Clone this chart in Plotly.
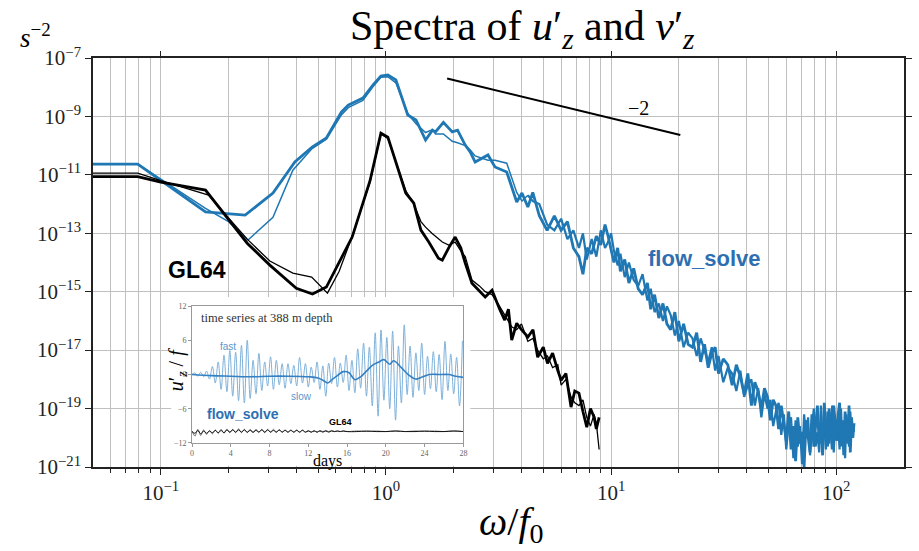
import math
import plotly.graph_objects as go

# ---------------- data ----------------
# flow_solve spectra (log10 of spectral level), low-frequency parts
omega_blue_thick_lf = [0.05, 0.079, 0.158, 0.237, 0.315, 0.394, 0.47, 0.544, 0.634, 0.68,
                       0.79, 0.877, 0.95, 1.02, 1.107, 1.25, 1.36, 1.50, 1.61, 1.66,
                       1.80, 1.97, 2.08, 2.25, 2.37, 2.49, 2.84, 3.05, 3.44, 3.81, 4.02, 4.27]
log_blue_thick_lf = [-10.63, -10.63, -12.27, -12.38, -11.62, -10.56, -10.05, -9.74, -8.85, -8.61,
                     -8.37, -7.92, -7.62, -7.58, -7.75, -8.95, -9.12, -9.81, -9.47, -9.53,
                     -9.20, -9.53, -9.47, -9.98, -10.22, -10.56, -10.32, -10.73, -10.90, -11.93, -11.62, -12.10]

omega_blue_thin_lf = [0.05, 0.079, 0.158, 0.2, 0.244, 0.315, 0.386, 0.47, 0.544, 0.634, 0.68,
                      0.79, 0.877, 0.95, 1.02, 1.107, 1.25, 1.36, 1.50, 1.61, 1.66,
                      1.80, 1.97, 2.08, 2.25, 2.37, 2.49, 2.84, 3.05, 3.44, 3.81, 4.02, 4.27]
log_blue_thin_lf = [-10.63, -10.63, -12.15, -12.6, -13.23, -12.45, -10.84, -10.1, -9.78, -8.95, -8.7,
                    -8.45, -7.98, -7.66, -7.64, -7.85, -8.9, -9.25, -9.55, -9.45, -9.6,
                    -9.6, -9.85, -9.9, -10.0, -10.15, -10.35, -10.5, -10.5, -10.6, -11.6, -11.9, -11.7]

# flow_solve spectra, high-frequency (noisy) parts on a shared frequency grid
omega_hf = [4.49, 4.8, 5.2, 5.6, 6.0, 6.4, 6.8, 7.2, 7.5, 7.8, 8.2, 8.6, 9.0, 9.4, 9.7, 10.0,
            10.3, 10.7, 11.0, 11.5, 12.0, 12.6, 13.2, 13.8, 14.5, 15.0, 15.6, 16.3, 17.0, 17.7,
            18.4, 19.2, 20.0, 21.0, 22.0, 23.0, 24.0, 25.0, 26.0, 27.0, 28.0, 29.0, 30.0,
            31.5, 33.0, 34.5, 36.0, 37.5, 39.0, 40.5, 42.0, 43.5, 45.0, 46.5, 48.0, 49.5, 51.0,
            52.5, 54.0, 55.5, 57.0, 58.5, 60.0, 61.5, 63.0, 64.5, 66.0, 67.5, 69.0, 70.5, 72.0,
            73.5, 75.0, 76.5, 78.0, 79.5, 81.0, 82.5, 84.0, 85.5, 87.0, 88.5, 90.0, 91.5, 93.0,
            94.5, 96.0, 97.5, 99.0, 100.5, 102.0, 103.5, 105.0, 106.5, 108.0, 109.5, 111.0,
            112.5, 114.0, 115.5, 117.0, 118.5, 120.0]
log_blue_thick_hf = [-11.6, -12.4, -12.9, -12.4, -12.9, -12.6, -13.5, -13.8, -14.4, -13.5,
                     -13.7, -13.1, -13.4, -12.7, -13.1, -13.6, -14.0, -13.5, -14.3, -13.9,
                     -14.7, -14.2, -14.9, -15.1, -14.7, -15.6, -15.1, -15.9, -15.4, -16.1,
                     -16.3, -15.7, -16.7, -16.1, -16.8, -16.9, -16.4, -17.4, -16.8, -17.6,
                     -17.1, -16.9, -17.8,
                     -17.3, -17.5, -18.2, -17.5, -17.9, -18.5, -17.8, -18.9, -18.1, -18.4,
                     -19.0, -18.3, -18.6, -19.4, -18.7, -18.9, -19.7, -18.9, -19.5, -20.1,
                     -19.1, -20.4, -19.6, -20.8, -19.3, -20.2, -19.8, -21.0, -19.4, -19.9,
                     -20.5, -19.2, -20.3, -19.6, -18.9, -20.2, -19.5, -20.6, -18.8, -19.7,
                     -20.3, -19.0, -19.6, -20.4, -18.9, -19.5, -20.1, -19.2, -18.8, -20.3,
                     -19.4, -20.6, -19.1, -19.8, -20.2, -18.9, -20.5, -19.3, -20.0, -19.5]
log_blue_thin_hf = [-11.9, -12.0, -12.7, -12.9, -12.5, -13.2, -12.9, -13.5, -13.0, -13.9,
                    -13.2, -13.8, -12.9, -13.5, -13.3, -13.0, -13.6, -14.1, -13.7, -14.5,
                    -14.0, -14.6, -14.8, -14.4, -15.3, -14.9, -15.7, -15.4, -16.0, -15.5,
                    -15.8, -16.5, -16.0, -16.9, -16.4, -16.6, -17.2, -16.6, -17.0, -17.4,
                    -16.9, -17.7, -17.2,
                    -18.1, -17.6, -17.8, -18.4, -17.7, -18.6, -18.2, -18.0, -18.9, -18.3,
                    -19.3, -18.5, -19.0, -18.7, -19.6, -19.1, -18.8, -19.9, -19.2, -20.4,
                    -19.5, -19.3, -20.7, -19.4, -20.3, -19.6, -20.9, -19.2, -20.0, -19.3,
                    -20.6, -19.7, -19.0, -20.3, -19.8, -20.5, -18.9, -20.0, -19.6, -20.4,
                    -19.1, -20.2, -19.7, -18.9, -20.5, -19.4, -20.1, -19.6, -20.4, -19.0,
                    -20.2, -19.5, -20.7, -19.2, -19.9, -20.3, -19.1, -20.0, -19.6, -19.8]

# GL64 spectra
omega_black_thick = [0.05, 0.079, 0.1, 0.158, 0.242, 0.305, 0.40, 0.472, 0.544, 0.708,
                     0.85, 0.95, 1.02, 1.225, 1.33, 1.43, 1.55, 1.71, 1.78, 1.9,
                     2.03, 2.15, 2.25, 2.41, 2.76, 2.96, 3.2, 3.37, 3.5, 3.62,
                     3.81, 4.0, 4.27, 4.5, 4.72, 5.0, 5.22, 5.5, 5.8, 6.0,
                     6.3, 6.64, 6.9, 7.2, 7.5, 7.8, 8.1, 8.4, 8.6, 8.85]
log_black_thick = [-11.06, -11.06, -11.25, -11.52, -13.34, -14.09, -14.88, -15.08, -14.84, -13.13,
                   -11.2, -9.57, -9.71, -11.62, -11.97, -12.89, -13.3, -13.85, -13.92, -13.5,
                   -13.13, -13.5, -14.02, -14.71, -15.18, -14.95, -15.6, -15.97, -15.6, -16.66,
                   -16.08, -16.3, -16.55, -16.3, -17.24, -16.9, -17.45, -17.1, -17.7, -18.03,
                   -17.8, -18.95, -18.4, -18.47, -19.1, -19.64, -19.0, -19.29, -19.7, -19.3]
omega_black_thin = [0.05, 0.079, 0.1, 0.163, 0.242, 0.305, 0.386, 0.468, 0.55, 0.62,
                    0.708, 0.85, 0.95, 1.02, 1.225, 1.33, 1.43, 1.5, 1.6, 1.71,
                    1.78, 1.9, 2.03, 2.15, 2.25, 2.41, 2.6, 2.76, 2.96, 3.2,
                    3.37, 3.62, 3.81, 4.0, 4.27, 4.5, 4.72, 5.0, 5.22, 5.5,
                    5.8, 6.0, 6.3, 6.64, 6.9, 7.2, 7.5, 7.8, 8.1, 8.4, 8.6, 8.85]
log_black_thin = [-10.94, -10.94, -11.2, -11.69, -13.2, -13.95, -14.36, -14.50, -15.05, -14.3,
                  -13.1, -11.25, -9.6, -9.75, -11.55, -12.0, -12.6, -12.79, -13.0, -13.2,
                  -13.3, -13.4, -13.3, -13.6, -13.8, -14.6, -14.8, -15.0, -15.1, -15.5,
                  -15.8, -16.2, -16.3, -16.1, -16.7, -16.6, -17.0, -17.3, -17.2, -17.6,
                  -17.5, -18.2, -18.0, -18.6, -18.8, -18.9, -18.7, -19.3, -19.6, -19.2, -19.5, -20.4]

# -2 reference slope
ref_omega = [1.87, 20.3]
ref_level = [2.0e-8, 2.3e-10]
ref_label_omega = 13.3
ref_label_level = 1.95e-9

# axis ticks
x_tick_vals = [0.1, 1, 10, 100]
x_tick_text = ["10<sup>−1</sup>", "10<sup>0</sup>", "10<sup>1</sup>", "10<sup>2</sup>"]
y_exponents = [-7, -9, -11, -13, -15, -17, -19, -21]

# inset time series (388 m depth)
fast_days = [0.0, 0.3, 0.6, 0.9, 1.2, 1.5, 1.8, 2.1, 2.4, 2.7, 3.0,
             3.3, 3.6, 3.9, 4.2, 4.5, 4.8, 5.1, 5.4, 5.7, 6.0,
             6.3, 6.6, 6.9, 7.2, 7.5, 7.8, 8.1, 8.4, 8.7, 9.0,
             9.3, 9.6, 9.9, 10.2, 10.5, 10.8, 11.1, 11.4, 11.7, 12.0,
             12.3, 12.6, 12.9, 13.2, 13.5, 13.8, 14.1, 14.4, 14.7, 15.0,
             15.3, 15.6, 15.9, 16.2, 16.5, 16.8, 17.1, 17.4, 17.7, 18.0,
             18.3, 18.6, 18.9, 19.2, 19.5, 19.8, 20.1, 20.4, 20.7, 21.0,
             21.3, 21.6, 21.9, 22.2, 22.5, 22.8, 23.1, 23.4, 23.7, 24.0,
             24.3, 24.6, 24.9, 25.2, 25.5, 25.8, 26.1, 26.4, 26.7, 27.0,
             27.3, 27.6, 27.9]
fast_vals = [0.0,
             0.3, -0.3, 0.4, -0.4, 0.6, -0.8, 1.4, -1.5, 2.2, -2.6,
             3.4, -3.0, 4.2, -3.8, 3.9, -4.6, 5.1, -5.0, 6.0, -4.2,
             2.5, -3.4, 3.7, -2.8, 2.2, -2.0, 3.1, -2.6, 2.5, -1.8,
             1.9, -2.4, 1.9, -1.6, 1.6, -2.0, 3.0, -1.5, 1.9, -2.2,
             1.3, -1.4, 2.2, -2.6, 1.5, -3.8, 2.0, -1.6, 3.0, -2.2,
             2.0, -1.4, 3.4, -2.8, 2.5, -3.2, 4.5, -2.4, 5.5, -3.8,
             4.8, -5.5, 7.3, -7.3, 7.8, -4.5, 6.5, -6.0, 7.6, -8.0,
             5.0, -5.0, 8.7, -3.5, 5.0, -4.0, 3.8, -2.8, 5.5, -3.5,
             3.2, -2.5, 4.0, -3.0, 3.5, -4.4, 5.8, -2.8, 3.6, -3.4,
             3.0, -5.5, 5.9]
slow_days = [0, 2, 4, 6, 8, 10, 12, 13, 13.5, 14, 14.5, 15, 15.6, 16.2, 16.8, 17.4,
             18, 18.6, 19.3, 19.8, 20.4, 20.8, 21.6, 22.3, 23.1, 23.8, 24.5, 25.5, 26.5, 27.2, 28]
slow_vals = [0.0, -0.2, -0.3, -0.4, -0.3, -0.3, -0.4, -0.6, -1.0, -1.5, -0.8, -0.2, 0.5, 0.3, -0.9, -0.4,
             0.6, 1.6, 2.2, 2.6, 1.8, 2.4, 1.2, 0.0, -0.8, -0.4, 0.0, 0.0, 0.0, -0.3, -0.5]
gl_days = [0.0, 0.3, 0.6, 0.9, 1.2, 1.5, 1.8, 2.1, 2.4, 2.7, 3.0, 3.3, 3.6, 3.9, 4.2, 4.5,
           4.8, 5.1, 5.4, 5.7, 6.0, 6.3, 6.6, 6.9, 7.2, 7.5, 7.8, 8.1, 8.4, 8.7, 9.0, 9.3,
           9.6, 9.9, 10.2, 10.5, 10.8, 11.1, 11.4, 11.7, 12.0, 12.3, 12.6, 12.9, 13.2, 13.5,
           13.8, 14.1, 14.4, 14.7, 15.0, 15.3, 15.6, 16.0, 17.0, 18.0, 19.0, 20.0, 21.0, 22.0,
           23.0, 24.0, 25.0, 26.0, 27.0, 28.0]
gl_a = [-10.0, -10.3, -9.8, -10.4, -9.9, -10.3, -9.9, -10.2, -9.8, -10.2, -9.8, -10.2, -9.7, -10.1, -9.7, -10.1,
        -9.7, -10.1, -9.7, -10.1, -9.8, -10.1, -9.8, -10.1, -9.7, -10.1, -9.7, -10.1, -9.8, -10.1, -9.7, -10.1,
        -9.8, -10.1, -9.8, -10.1, -9.8, -10.1, -9.8, -10.1, -9.9, -10.1, -9.9, -10.1, -9.9, -10.1,
        -9.9, -10.1, -9.9, -10.0, -9.9, -10.0, -9.9, -10.0, -10.0, -9.9, -10.0, -10.0, -9.9, -10.0,
        -10.0, -9.9, -10.0, -10.0, -9.9, -10.0]
gl_b = [-9.9, -10.8, -9.6, -10.7, -9.7, -10.5, -9.8, -10.4, -9.7, -10.3, -9.6, -10.3, -9.6, -10.2, -9.6, -10.2,
        -9.5, -10.2, -9.6, -10.2, -9.6, -10.2, -9.6, -10.1, -9.6, -10.2, -9.6, -10.1, -9.6, -10.1, -9.7, -10.1,
        -9.7, -10.1, -9.7, -10.1, -9.7, -10.1, -9.7, -10.1, -9.8, -10.1, -9.8, -10.1, -9.8, -10.0,
        -9.8, -10.0, -9.8, -10.0, -9.9, -10.0, -9.9, -10.0, -9.9, -10.0, -9.9, -10.0, -9.9, -10.0,
        -9.9, -10.0, -9.9, -10.0, -9.9, -10.0]
inset_x_ticks = [0, 4, 8, 12, 16, 20, 24, 28]
inset_y_ticks = [-12, -6, 0, 6, 12]

# ---------------- styling ----------------
SERIF = "Liberation Serif"
SANS = "Liberation Sans"
BLUE = "#1f77b4"
LABEL_BLUE = "#2e6fb2"
GRID = "rgb(192,192,192)"


def pw(vals):
    return [10.0 ** v for v in vals]


fig = go.Figure()

common = dict(mode="lines", showlegend=False, hoverinfo="skip")
# thin flow_solve curve: fine line at low frequency, heavier in the noisy high-frequency band
fig.add_trace(go.Scatter(x=omega_blue_thin_lf, y=pw(log_blue_thin_lf),
                         line=dict(color=BLUE, width=1.5), **common))
fig.add_trace(go.Scatter(x=omega_blue_thin_lf[-1:] + omega_hf, y=pw(log_blue_thin_lf[-1:] + log_blue_thin_hf),
                         line=dict(color=BLUE, width=2.2), **common))
fig.add_trace(go.Scatter(x=omega_blue_thick_lf + omega_hf, y=pw(log_blue_thick_lf + log_blue_thick_hf),
                         line=dict(color=BLUE, width=2.8), **common))
fig.add_trace(go.Scatter(x=omega_black_thin, y=pw(log_black_thin),
                         line=dict(color="black", width=1.3), **common))
fig.add_trace(go.Scatter(x=omega_black_thick, y=pw(log_black_thick),
                         line=dict(color="black", width=2.8), **common))
fig.add_trace(go.Scatter(x=ref_omega, y=ref_level, line=dict(color="black", width=2), **common))

# top-axis helper (major ticks only on top)
fig.add_trace(go.Scatter(x=[1], y=[1e-14], xaxis="x4", yaxis="y", mode="markers",
                         marker=dict(opacity=0), showlegend=False, hoverinfo="skip"))
# white cover panel behind inset
fig.add_trace(go.Scatter(x=[0.5], y=[0.5], xaxis="x2", yaxis="y2", mode="markers",
                         marker=dict(opacity=0), showlegend=False, hoverinfo="skip"))
# inset traces
fig.add_trace(go.Scatter(x=gl_days, y=gl_b, xaxis="x3", yaxis="y3",
                         line=dict(color="#777777", width=1, shape="spline"), **common))
fig.add_trace(go.Scatter(x=gl_days, y=gl_a, xaxis="x3", yaxis="y3",
                         line=dict(color="#111111", width=1, shape="spline"), **common))
fig.add_trace(go.Scatter(x=fast_days, y=fast_vals, xaxis="x3", yaxis="y3",
                         line=dict(color="rgb(125,176,218)", width=1.0, shape="spline", smoothing=1.0), **common))
fig.add_trace(go.Scatter(x=slow_days, y=slow_vals, xaxis="x3", yaxis="y3",
                         line=dict(color="rgb(52,128,194)", width=1.6, shape="spline", smoothing=1.0), **common))

x_range = [math.log10(0.05), math.log10(200)]
minor_x = [m * 10.0 ** e for e in range(-2, 3) for m in range(2, 10)
           if 0.05 < m * 10.0 ** e < 200]

fig.update_layout(
    width=919, height=551,
    margin=dict(l=93, r=7, t=58, b=84),
    paper_bgcolor="white", plot_bgcolor="white",
    showlegend=False,
    font=dict(family=SERIF, color="black"),
    xaxis=dict(type="log", range=x_range, domain=[0, 1], anchor="y",
               tickvals=x_tick_vals, ticktext=x_tick_text,
               ticks="outside", ticklen=6, tickwidth=1.2, tickcolor="#222",
               showline=True, linecolor="#222", linewidth=1.6, mirror=True,
               showgrid=True, gridcolor=GRID, gridwidth=1.3, zeroline=False,
               tickfont=dict(family=SERIF, size=21, color="#222"),
               minor=dict(tickvals=minor_x, ticks="outside", ticklen=4, tickwidth=1, tickcolor="#222",
                          showgrid=True, gridcolor=GRID, gridwidth=1.3)),
    xaxis4=dict(type="log", range=x_range, overlaying="x", side="top", anchor="y",
                tickvals=x_tick_vals, ticks="outside", ticklen=6, tickwidth=1.2, tickcolor="#222",
                showticklabels=False, showgrid=False, showline=False, zeroline=False),
    yaxis=dict(type="log", range=[-21, -7], domain=[0, 1], anchor="x",
               tickvals=[10.0 ** e for e in y_exponents],
               ticktext=["10<sup>−%d</sup>" % (-e) for e in y_exponents],
               ticks="outside", ticklen=6, tickwidth=1.2, tickcolor="#222",
               showline=True, linecolor="#222", linewidth=1.6, mirror="ticks",
               showgrid=True, gridcolor=GRID, gridwidth=1.3, zeroline=False,
               tickfont=dict(family=SERIF, size=21, color="#222")),
    xaxis2=dict(domain=[0.0965, 0.4652], range=[0, 1], anchor="y2", visible=False),
    yaxis2=dict(domain=[0.003, 0.4156], range=[0, 1], anchor="x2", visible=False),
    xaxis3=dict(domain=[0.1221, 0.4567], range=[0, 28], anchor="y3",
                tickvals=inset_x_ticks, ticks="outside", ticklen=3, tickcolor="#999",
                showline=True, linecolor="#999", linewidth=0.8, mirror=True,
                showgrid=False, zeroline=False,
                tickfont=dict(family=SERIF, size=8, color="#666")),
    yaxis3=dict(domain=[0.0587, 0.3936], range=[-12, 12], anchor="x3",
                tickvals=inset_y_ticks, ticks="outside", ticklen=3, tickcolor="#999",
                showline=True, linecolor="#999", linewidth=0.8, mirror=True,
                showgrid=False, zeroline=False,
                tickfont=dict(family=SERIF, size=8, color="#666")),
)

ann = [
    # title
    dict(text="Spectra of <i>u</i>′<sub><i>z</i></sub> and <i>v</i>′<sub><i>z</i></sub>",
         xref="paper", yref="paper", x=0.53, y=1, yshift=29, xanchor="center", yanchor="middle",
         showarrow=False, font=dict(family=SERIF, size=42, color="black")),
    # units
    dict(text="<i>s</i><sup>−2</sup>", xref="paper", yref="paper", x=-0.071, y=1, yshift=22,
         xanchor="center", yanchor="middle", showarrow=False,
         font=dict(family=SERIF, size=27, color="black")),
    # x title
    dict(text="<i>ω</i>/<i>f</i><sub>0</sub>", xref="paper", yref="paper", x=0.5165, y=0, yshift=-57,
         xanchor="center", yanchor="middle", showarrow=False,
         font=dict(family=SERIF, size=40, color="black")),
    # slope label
    dict(text="−2", xref="x", yref="y", x=math.log10(ref_label_omega), y=math.log10(ref_label_level),
         xanchor="center", showarrow=False, font=dict(family=SERIF, size=20, color="black")),
    # model labels
    dict(text="<b>GL64</b>", xref="paper", yref="paper", x=0.128, y=0.4817, xanchor="center",
         yanchor="middle", showarrow=False, font=dict(family=SANS, size=23, color="black")),
    dict(text="<b>flow_solve</b>", xref="paper", yref="paper", x=0.7534, y=0.511, xanchor="center",
         yanchor="middle", showarrow=False, font=dict(family=SANS, size=22, color=LABEL_BLUE)),
    # inset labels
    dict(text="time series at 388 m depth", xref="x3", yref="y3", x=0.7, y=9.9, xanchor="left",
         showarrow=False, font=dict(family=SERIF, size=12.5, color="#333")),
    dict(text="fast", xref="x3", yref="y3", x=3.7, y=4.9, xanchor="center", showarrow=False,
         font=dict(family=SANS, size=10, color="rgb(90,150,205)")),
    dict(text="slow", xref="x3", yref="y3", x=11.3, y=-3.9, xanchor="center", showarrow=False,
         font=dict(family=SANS, size=10, color="rgb(90,150,205)")),
    dict(text="<b>flow_solve</b>", xref="x3", yref="y3", x=5.3, y=-6.9, xanchor="center", showarrow=False,
         font=dict(family=SANS, size=14, color=LABEL_BLUE)),
    dict(text="<b>GL64</b>", xref="x3", yref="y3", x=15.3, y=-8.4, xanchor="center", showarrow=False,
         font=dict(family=SANS, size=9, color="black")),
    dict(text="<i>u</i>′<sub><i>z</i></sub> / <i>f</i>", xref="paper", yref="paper", x=0.1038, y=0.237,
         xanchor="center", yanchor="middle", textangle=-90, showarrow=False,
         font=dict(family=SERIF, size=20, color="black")),
    dict(text="days", xref="paper", yref="paper", x=0.2894, y=0.0147, xanchor="center", yanchor="middle",
         showarrow=False, font=dict(family=SERIF, size=16, color="black")),
]
fig.update_layout(annotations=ann)

fig.write_html("out.html")
